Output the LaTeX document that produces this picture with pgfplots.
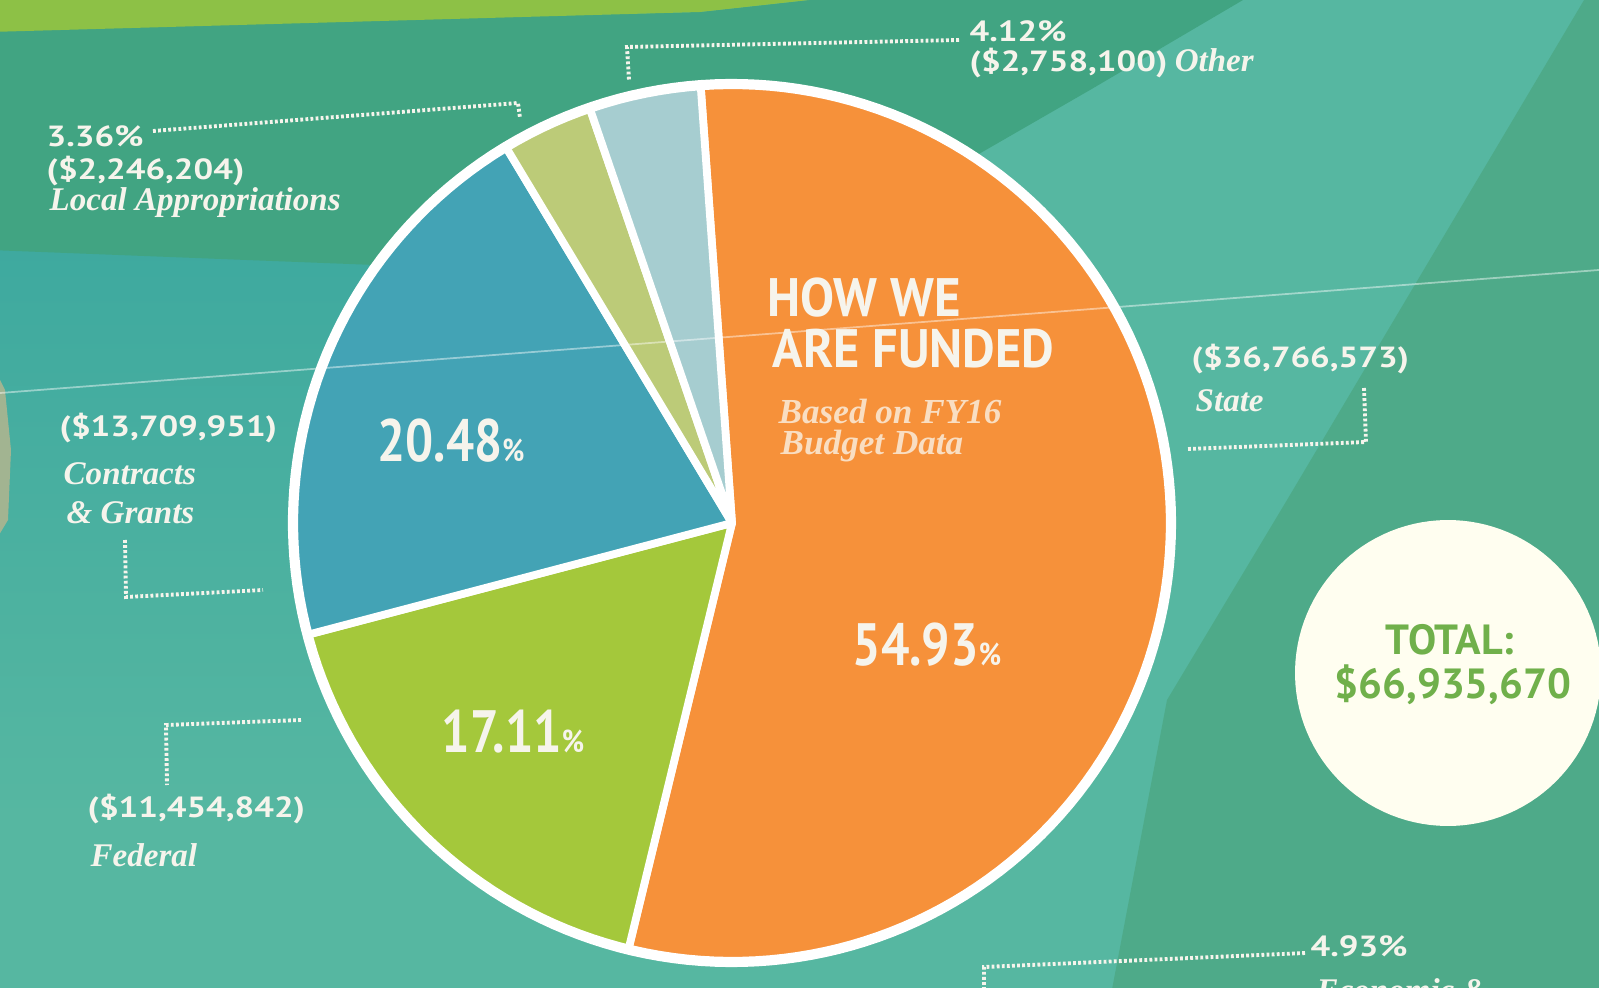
\documentclass[border=0pt]{standalone}
\usepackage{pgfplots}
\pgfplotsset{compat=1.18}
\usepackage{graphicx}
\usepackage{fontspec}
\newfontfamily\lab{PT Sans}
\newfontfamily\ser{Liberation Serif}
\definecolor{bgbase}{HTML}{56B7A1}
\definecolor{bggreen}{HTML}{41A482}
\definecolor{bgyel}{HTML}{8DC146}
\definecolor{bgteal}{HTML}{3EA99F}
\definecolor{bgright}{HTML}{4EAA89}
\definecolor{cState}{HTML}{F6913A}
\definecolor{cFed}{HTML}{A4C83B}
\definecolor{cCon}{HTML}{43A3B5}
\definecolor{cLoc}{HTML}{BCCB78}
\definecolor{cOth}{HTML}{A6CDD0}
\definecolor{txt}{HTML}{F6F4EC}
\definecolor{sub}{HTML}{F9DEC2}
\definecolor{tot}{HTML}{70B04B}
\definecolor{skin}{HTML}{B9B68E}
\newcommand\num[1]{\scalebox{1.19}[1]{#1}}
\tikzset{numlab/.style={anchor=west, text=txt, font=\lab\bfseries\fontsize{8.3}{9}\selectfont, inner sep=0},
  itlab/.style={anchor=west, text=txt, font=\ser\bfseries\itshape\fontsize{9.4}{10}\selectfont, inner sep=0}}
\begin{document}
\begin{tikzpicture}
% pie data: shares in percent, State, Federal, Contracts & Grants, Local, Other
\def\pState{54.93}\def\pFed{17.11}\def\pCon{20.48}\def\pLoc{3.36}\def\pOth{4.12}
\def\cx{732}\def\cy{523}\def\r{439}
\pgfmathsetmacro\aA{94.1}
\pgfmathsetmacro\aB{\aA-\pState*3.6}
\pgfmathsetmacro\aC{\aB-\pFed*3.6}
\pgfmathsetmacro\aD{\aC-\pCon*3.6}
\pgfmathsetmacro\aE{\aD-\pLoc*3.6}
\pgfmathsetmacro\aF{\aE-\pOth*3.6}
\begin{axis}[name=ax, scale only axis, width=15.99cm, height=9.87cm,
  xmin=0, xmax=1599, ymin=0, ymax=987, y dir=reverse, hide axis, clip=true]
% background
\addplot[fill=bgbase, draw=none] coordinates {(-10,-10) (1610,-10) (1610,1000) (-10,1000)} -- cycle;
\addplot[draw=none, top color=bgteal, bottom color=bgbase] coordinates {(-10,240) (760,280) (420,820) (-10,820)} -- cycle;
\addplot[fill=bggreen, draw=none] coordinates {(-10,30) (700,12) (900,-10) (1260,-10) (1090,90) (760,280) (-10,250)} -- cycle;
\addplot[fill=bgyel, draw=none] coordinates {(-10,-10) (900,-10) (700,12) (-10,32)} -- cycle;
\addplot[fill=bgright, draw=none] coordinates {(1590,-10) (1287,500) (1167,700) (1110,1000) (1610,1000) (1610,-10)} -- cycle;
\addplot[fill=skin, draw=none, opacity=0.8] coordinates {(-10,360) (5,390) (11,450) (8,520) (-10,550)} -- cycle;
% pie slices
\addplot[fill=cState, draw=white, line width=2.2pt, line join=round, domain=\aB:\aA, samples=140, variable=\t]
  ({\cx+\r*cos(\t)}, {\cy-\r*sin(\t)}) -- (axis cs:\cx,\cy) -- cycle;
\addplot[fill=cFed, draw=white, line width=2.2pt, line join=round, domain=\aC:\aB, samples=60, variable=\t]
  ({\cx+\r*cos(\t)}, {\cy-\r*sin(\t)}) -- (axis cs:\cx,\cy) -- cycle;
\addplot[fill=cCon, draw=white, line width=2.2pt, line join=round, domain=\aD:\aC, samples=70, variable=\t]
  ({\cx+\r*cos(\t)}, {\cy-\r*sin(\t)}) -- (axis cs:\cx,\cy) -- cycle;
\addplot[fill=cLoc, draw=white, line width=2.2pt, line join=round, domain=\aE:\aD, samples=20, variable=\t]
  ({\cx+\r*cos(\t)}, {\cy-\r*sin(\t)}) -- (axis cs:\cx,\cy) -- cycle;
\addplot[fill=cOth, draw=white, line width=2.2pt, line join=round, domain=\aF:\aE, samples=20, variable=\t]
  ({\cx+\r*cos(\t)}, {\cy-\r*sin(\t)}) -- (axis cs:\cx,\cy) -- cycle;
\addplot[draw=white, line width=2.9pt, domain=0:360, samples=200, variable=\t]
  ({\cx+\r*cos(\t)}, {\cy-\r*sin(\t)});
% total circle
\addplot[fill=white!94!yellow, draw=none, domain=0:360, samples=120, variable=\t]
  ({1448+153*cos(\t)}, {673-153*sin(\t)}) -- cycle;
% crease
\addplot[draw=white, opacity=0.45, line width=0.5pt] coordinates {(0,393) (1599,270)};
% leader lines
\pgfplotsset{leader/.style={draw=txt, line width=1.1pt, dash pattern=on 0.8pt off 0.65pt}}
\addplot[leader] coordinates {(153,131) (518,103) (520,118)};
\addplot[leader] coordinates {(959,40) (627,47) (629,80)};
\addplot[leader] coordinates {(1364,388) (1366,442) (1188,449)};
\addplot[leader] coordinates {(125,540) (126,597) (263,590)};
\addplot[leader] coordinates {(301,720) (166,725) (167,785)};
\addplot[leader] coordinates {(1305,953) (984,967) (984,990)};
% texts
\node[numlab] at (axis cs:46,136) {\num{3.36\%}};
\node[numlab] at (axis cs:46,171) {\num{(\$2,246,204)}};
\node[itlab] at (axis cs:49,203) {Local Appropriations};
\node[numlab] at (axis cs:969,31) {\num{4.12\%}};
\node[numlab] at (axis cs:969,63) {\num{(\$2,758,100)} {\ser\itshape\fontsize{9.4}{10}\selectfont Other}};
\node[numlab] at (axis cs:1191,359) {\num{(\$36,766,573)}};
\node[itlab] at (axis cs:1195,401) {State};
\node[numlab] at (axis cs:59,428) {\num{(\$13,709,951)}};
\node[itlab] at (axis cs:63,474) {Contracts};
\node[itlab] at (axis cs:66,513) {\& Grants};
\node[numlab] at (axis cs:87,809) {\num{(\$11,454,842)}};
\node[itlab] at (axis cs:90,855) {Federal};
\node[numlab] at (axis cs:1310,946) {\num{4.93\%}};
\node[itlab] at (axis cs:1316,990) {Economic \&};
% slice labels
\node[anchor=west, text=txt, font=\lab\bfseries\fontsize{17}{18}\selectfont, inner sep=0] at (axis cs:377,441) {\scalebox{0.83}[1]{20.48{\fontsize{9}{10}\selectfont\%}}};
\node[anchor=west, text=txt, font=\lab\bfseries\fontsize{17}{18}\selectfont, inner sep=0] at (axis cs:852,645) {\scalebox{0.84}[1]{54.93{\fontsize{9}{10}\selectfont\%}}};
\node[anchor=west, text=txt, font=\lab\bfseries\fontsize{17}{18}\selectfont, inner sep=0] at (axis cs:441,732) {\scalebox{0.84}[1]{17.11{\fontsize{9}{10}\selectfont\%}}};
% title
\node[anchor=west, text=txt, font=\lab\bfseries\fontsize{15.4}{16}\selectfont, inner sep=0] at (axis cs:767,298) {\scalebox{0.94}[1]{HOW WE}};
\node[anchor=west, text=txt, font=\lab\bfseries\fontsize{15.4}{16}\selectfont, inner sep=0] at (axis cs:772,349) {\scalebox{0.93}[1]{ARE FUNDED}};
\node[anchor=west, text=sub, font=\ser\bfseries\itshape\fontsize{10}{11}\selectfont, inner sep=0] at (axis cs:778,411) {Based on FY16};
\node[anchor=west, text=sub, font=\ser\bfseries\itshape\fontsize{10}{11}\selectfont, inner sep=0] at (axis cs:780,446) {Budget Data};
% total
\node[text=tot, font=\lab\bfseries\fontsize{12}{13}\selectfont, inner sep=0] at (axis cs:1450,640) {TOTAL:};
\node[text=tot, font=\lab\bfseries\fontsize{12}{13}\selectfont, inner sep=0] at (axis cs:1453,685) {\$66,935,670};
\end{axis}
\pgfresetboundingbox
\path[use as bounding box] (ax.south west) rectangle (ax.north east);
\end{tikzpicture}
\end{document}
